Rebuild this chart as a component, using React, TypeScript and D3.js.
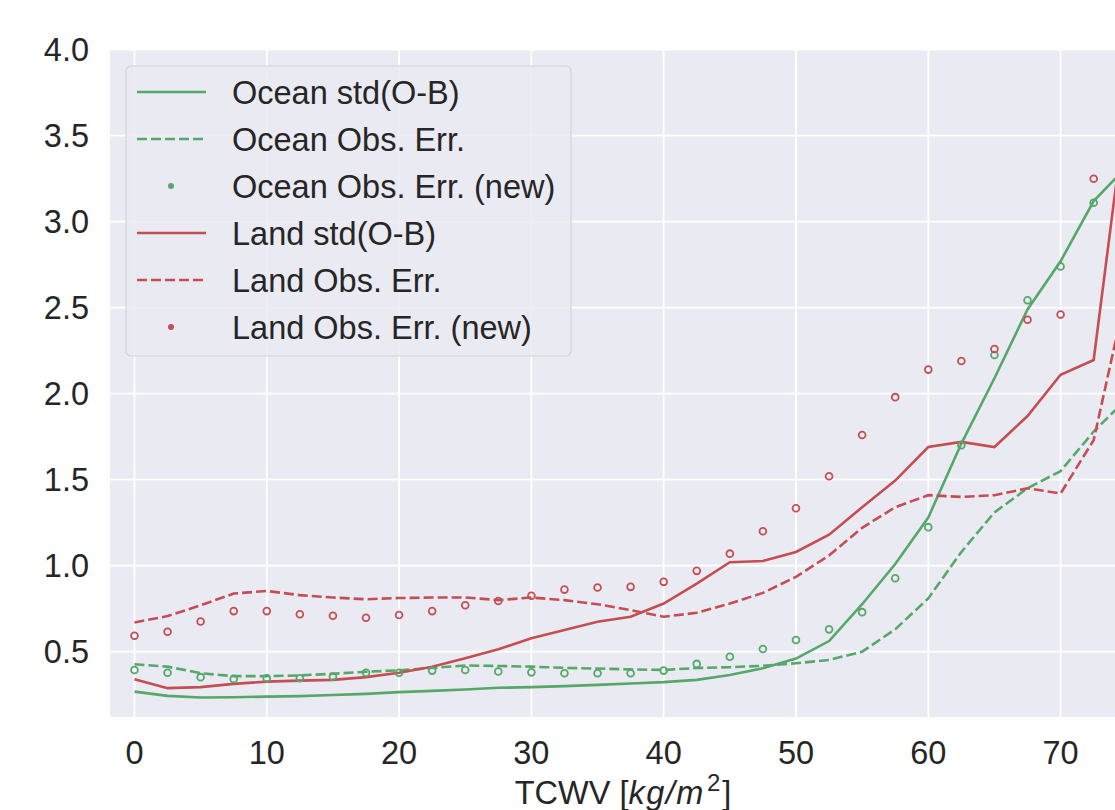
import React from "react";
import * as d3 from "d3";

// TCWV bins
const tcwv = [0, 2.5, 5, 7.5, 10, 12.5, 15, 17.5, 20, 22.5, 25, 27.5, 30, 32.5, 35, 37.5, 40, 42.5, 45, 47.5, 50, 52.5, 55, 57.5, 60, 62.5, 65, 67.5, 70, 72.5, 75];

const oceanStd = [0.268, 0.243, 0.234, 0.235, 0.239, 0.242, 0.248, 0.255, 0.265, 0.272, 0.28, 0.29, 0.294, 0.3, 0.307, 0.315, 0.323, 0.336, 0.365, 0.404, 0.46, 0.562, 0.776, 1.01, 1.28, 1.71, 2.09, 2.49, 2.77, 3.12, 3.32];
const oceanErr = [0.427, 0.413, 0.375, 0.358, 0.358, 0.362, 0.372, 0.383, 0.392, 0.405, 0.42, 0.417, 0.413, 0.406, 0.402, 0.397, 0.394, 0.405, 0.41, 0.418, 0.433, 0.452, 0.5, 0.63, 0.81, 1.08, 1.31, 1.45, 1.55, 1.78, 1.97];
const oceanErrNew = [0.394, 0.378, 0.352, 0.342, 0.346, 0.346, 0.355, 0.378, 0.378, 0.39, 0.394, 0.385, 0.38, 0.375, 0.375, 0.375, 0.39, 0.429, 0.471, 0.516, 0.568, 0.63, 0.73, 0.927, 1.224, 1.7, 2.225, 2.543, 2.74, 3.11];

const landStd = [0.34, 0.288, 0.294, 0.313, 0.326, 0.332, 0.336, 0.352, 0.378, 0.413, 0.462, 0.514, 0.578, 0.626, 0.674, 0.703, 0.78, 0.896, 1.02, 1.027, 1.08, 1.18, 1.34, 1.495, 1.69, 1.72, 1.69, 1.87, 2.11, 2.196, 3.7];
const landErr = [0.67, 0.707, 0.77, 0.838, 0.853, 0.829, 0.815, 0.805, 0.812, 0.815, 0.815, 0.8, 0.815, 0.8, 0.776, 0.742, 0.703, 0.726, 0.78, 0.842, 0.935, 1.06, 1.22, 1.34, 1.41, 1.4, 1.41, 1.45, 1.42, 1.73, 2.6];
const landErrNew = [0.593, 0.616, 0.676, 0.736, 0.736, 0.718, 0.709, 0.697, 0.713, 0.736, 0.77, 0.795, 0.825, 0.861, 0.873, 0.877, 0.906, 0.97, 1.07, 1.2, 1.334, 1.52, 1.76, 1.98, 2.14, 2.19, 2.26, 2.43, 2.46, 3.25];

const xTicks = [0, 10, 20, 30, 40, 50, 60, 70];
const yTicks = [0.5, 1.0, 1.5, 2.0, 2.5, 3.0, 3.5, 4.0];

const legendItems = [
  { label: "Ocean std(O-B)", color: "#55a868", kind: "solid" },
  { label: "Ocean Obs. Err.", color: "#55a868", kind: "dash" },
  { label: "Ocean Obs. Err. (new)", color: "#55a868", kind: "dot" },
  { label: "Land std(O-B)", color: "#c44e52", kind: "solid" },
  { label: "Land Obs. Err.", color: "#c44e52", kind: "dash" },
  { label: "Land Obs. Err. (new)", color: "#c44e52", kind: "dot" },
];

const GREEN = "#55a868";
const RED = "#c44e52";
const FONT = "'Liberation Sans', Arial, Helvetica, sans-serif";
const FS = 32.5;
const DASH = "10,4";

const plot = { left: 110, right: 1136, top: 50, bottom: 717 };

const x = d3.scaleLinear().domain([-1.85, 75.7]).range([plot.left, plot.right]);
const y = d3.scaleLinear().domain([0, 4]).range([737.7, 49.7]);

const lineGen = d3
  .line<number>()
  .x((_, i) => x(tcwv[i]))
  .y((d) => y(d));

const App = () => {
  const series = [
    { vals: oceanStd, color: GREEN, dash: undefined },
    { vals: oceanErr, color: GREEN, dash: DASH },
    { vals: landStd, color: RED, dash: undefined },
    { vals: landErr, color: RED, dash: DASH },
  ];
  const dots = [
    { vals: oceanErrNew, color: GREEN },
    { vals: landErrNew, color: RED },
  ];

  return (
    <svg
      width={1115}
      height={810}
      style={{ position: "absolute", left: 0, top: 0, background: "#fff" }}
      fontFamily={FONT}
    >
      <defs>
        <clipPath id="plotclip">
          <rect x={plot.left} y={plot.top} width={plot.right - plot.left} height={plot.bottom - plot.top} />
        </clipPath>
      </defs>
      <rect x={plot.left} y={plot.top} width={plot.right - plot.left} height={plot.bottom - plot.top} fill="#eaeaf2" />

      {/* grid */}
      <g stroke="#fff" strokeWidth={1.8}>
        {xTicks.map((t) => (
          <line key={"gx" + t} x1={x(t)} x2={x(t)} y1={plot.top} y2={plot.bottom} />
        ))}
        {yTicks.map((t) => (
          <line key={"gy" + t} x1={plot.left} x2={plot.right} y1={y(t)} y2={y(t)} />
        ))}
      </g>

      <g clipPath="url(#plotclip)">
        {series.map((s, i) => (
          <path
            key={"s" + i}
            d={lineGen(s.vals) || ""}
            fill="none"
            stroke={s.color}
            strokeWidth={2.6}
            strokeDasharray={s.dash}
          />
        ))}
        {dots.map((s, i) =>
          s.vals.map((v, j) => (
            <circle
              key={"d" + i + "-" + j}
              cx={x(tcwv[j])}
              cy={y(v)}
              r={3.4}
              fill="none"
              stroke={s.color}
              strokeWidth={1.8}
            />
          ))
        )}
      </g>

      {/* tick labels */}
      <g fill="#262626" fontSize={FS}>
        {yTicks.map((t) => (
          <text key={"yt" + t} x={89} y={y(t)} dy="0.36em" textAnchor="end">
            {t.toFixed(1)}
          </text>
        ))}
        {xTicks.map((t) => (
          <text key={"xt" + t} x={x(t)} y={764} textAnchor="middle">
            {t}
          </text>
        ))}
        <text x={623} y={804} textAnchor="middle">
          TCWV [<tspan fontStyle="italic" letterSpacing={1.5}>kg/m</tspan>
          <tspan dy={-13} dx={2} fontSize={24}>2</tspan>
          <tspan dy={13} dx={2}>]</tspan>
        </text>
      </g>

      {/* legend */}
      <g>
        <rect x={126} y={66} width={445} height={290} rx={5} fill="#eaeaf2" fillOpacity={0.85} stroke="#d2d2d8" strokeWidth={1.2} />
        {legendItems.map((it, i) => {
          const cy = 92 + i * 47;
          return (
            <g key={"lg" + i}>
              {it.kind === "dot" ? (
                <circle cx={171} cy={cy} r={3} fill={it.color} />
              ) : (
                <line
                  x1={137}
                  x2={206}
                  y1={cy}
                  y2={cy}
                  stroke={it.color}
                  strokeWidth={2.6}
                  strokeDasharray={it.kind === "dash" ? DASH : undefined}
                />
              )}
              <text x={232} y={cy} dy="0.36em" fontSize={FS} fill="#262626">
                {it.label}
              </text>
            </g>
          );
        })}
      </g>
    </svg>
  );
};

export default App;
